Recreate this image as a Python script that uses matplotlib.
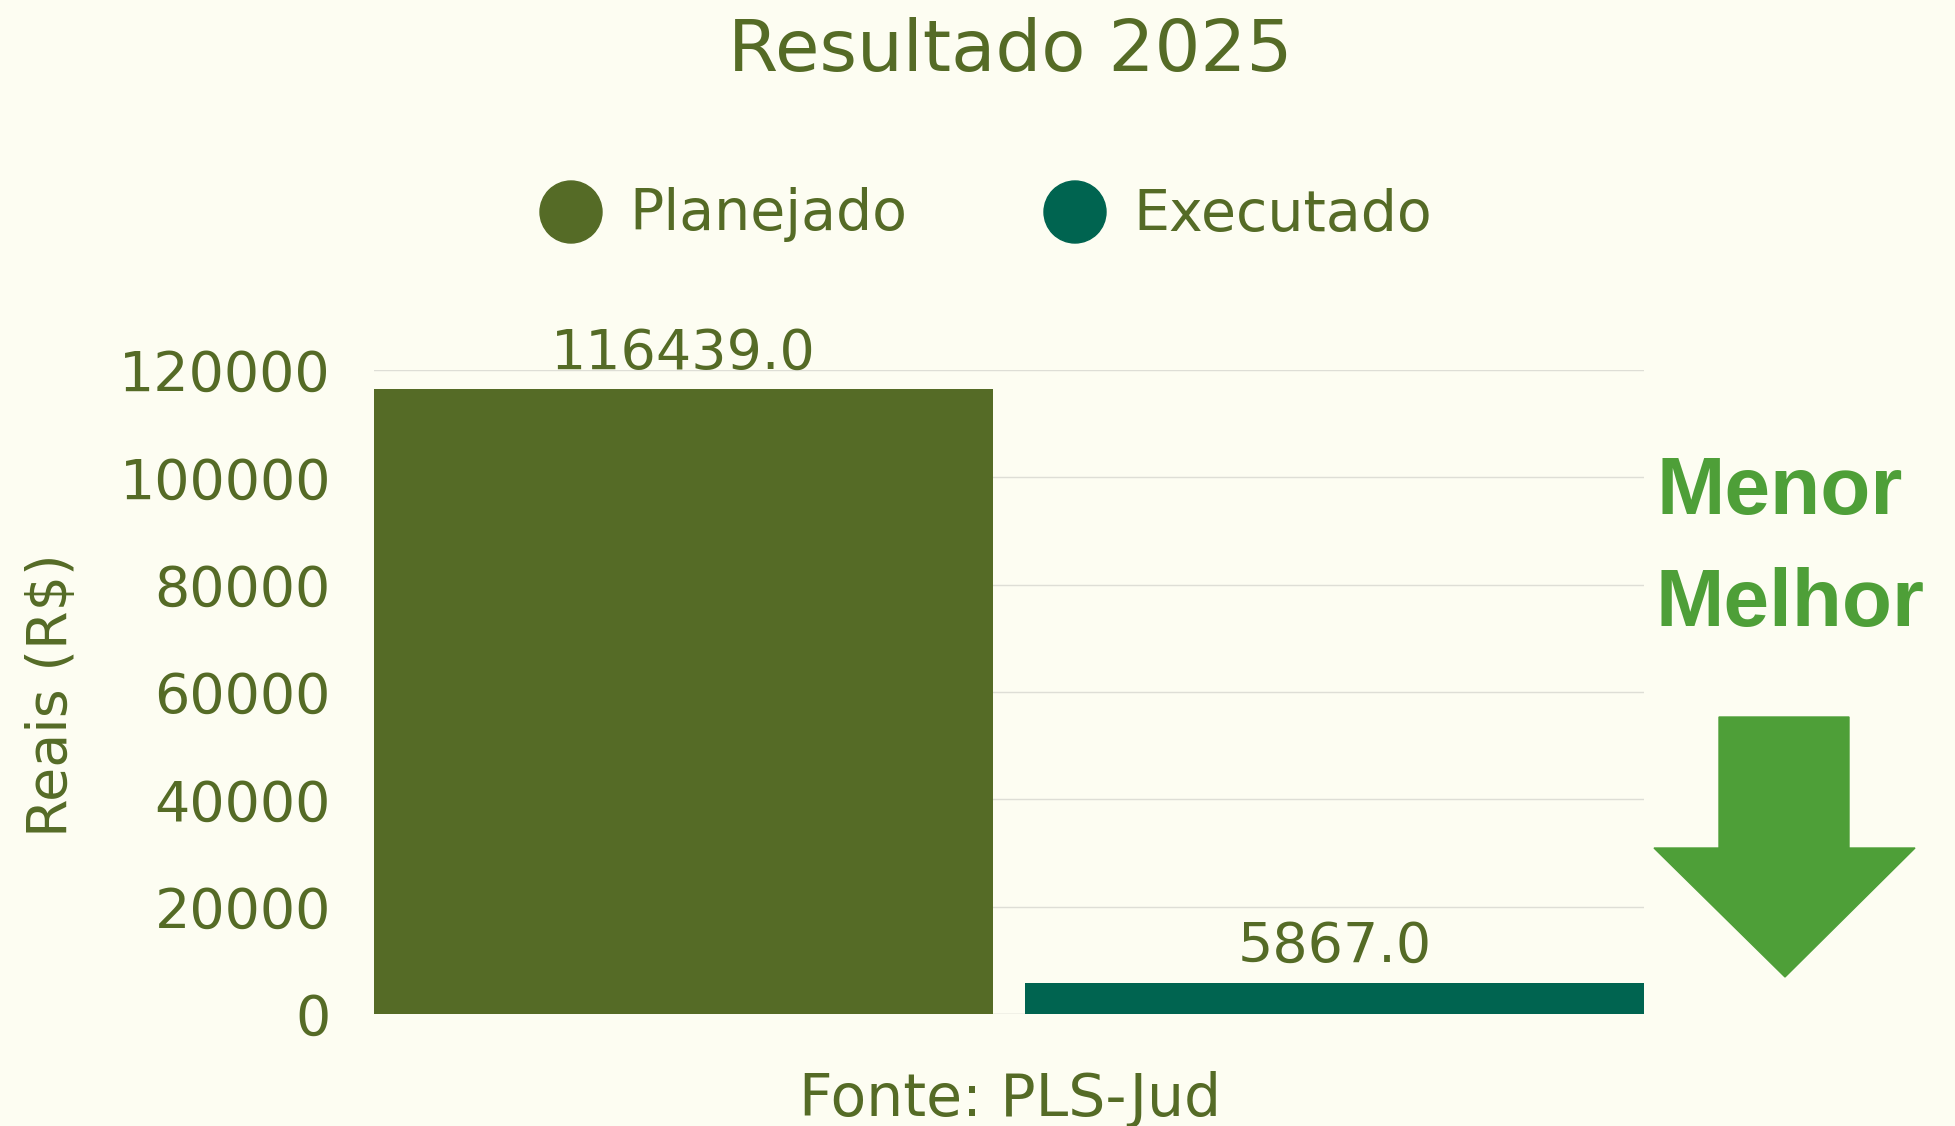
import numpy as np
import matplotlib
matplotlib.use('Agg')
import matplotlib.pyplot as plt
from matplotlib.patches import Polygon, Ellipse

# data
categorias = ['Planejado', 'Executado']
valores = [116439.0, 5867.0]
cores = ['#556B26', '#006450']
yticks = [0, 20000, 40000, 60000, 80000, 100000, 120000]

bg = '#FDFDF2'
txt = '#556B26'
verde = '#4E9F38'

W, H = 1956, 1126
fig = plt.figure(figsize=(W / 100, H / 100), dpi=100, facecolor=bg)
ax = fig.add_axes([374 / W, 1 - 1014 / H, (1644 - 374) / W, (1014 - 370) / H])
ax.set_facecolor(bg)

x = np.arange(len(categorias))
bars = ax.bar(x, valores, width=0.952, color=cores, zorder=2)
ax.set_xlim(-0.476, 1.476)
ax.set_ylim(0, 120000)
ax.set_yticks(yticks)
ax.set_yticklabels([str(t) for t in yticks], fontsize=40, color=txt)
ax.set_xticks([])
ax.tick_params(axis='y', length=0, pad=31)
ax.grid(axis='y', color='#DEDED6', linewidth=1, zorder=0)
for s in ax.spines.values():
    s.set_visible(False)
ax.axhline(0, color='#DEDED6', linewidth=1, zorder=1)

for b, v in zip(bars, valores):
    ax.annotate(f'{v:.1f}', (b.get_x() + b.get_width() / 2, v),
                xytext=(0, 6), textcoords='offset points',
                ha='center', va='bottom', fontsize=40, color=txt)

# y label
fig.text(52 / W, 1 - 695 / H, 'Reais (R$)', rotation=90, ha='center', va='center',
         fontsize=40, color=txt)

# title, legend, source
fig.text(1010 / W, 1 - 51 / H, 'Resultado 2025', ha='center', va='center',
         fontsize=52, color=txt)
leg = [(571, 'Planejado', cores[0]), (1075, 'Executado', cores[1])]
for px, lab, c in leg:
    fig.patches.append(Ellipse((px / W, 1 - 212 / H), 62 / W, 62 / H,
                               transform=fig.transFigure, color=c))
    fig.text((px + 58) / W, 1 - 215 / H, lab, ha='left', va='center',
             fontsize=41, color=txt)
fig.text(1010 / W, 1 - 1100 / H, 'Fonte: PLS-Jud', ha='center', va='center',
         fontsize=42, color=txt)

# "Menor Melhor" + arrow
fig.text(1780 / W, 1 - 493 / H, 'Menor', ha='center', va='center',
         fontsize=59, fontweight='bold', family='Liberation Sans', color=verde)
fig.text(1790 / W, 1 - 605 / H, 'Melhor', ha='center', va='center',
         fontsize=59, fontweight='bold', family='Liberation Sans', color=verde)
seta = [(1719, 717), (1849, 717), (1849, 848), (1915, 848), (1785, 977),
        (1654, 848), (1719, 848)]
fig.patches.append(Polygon([(px / W, 1 - py / H) for px, py in seta],
                           closed=True, transform=fig.transFigure, color=verde))

fig.savefig('out.png', dpi=100, facecolor=bg)
